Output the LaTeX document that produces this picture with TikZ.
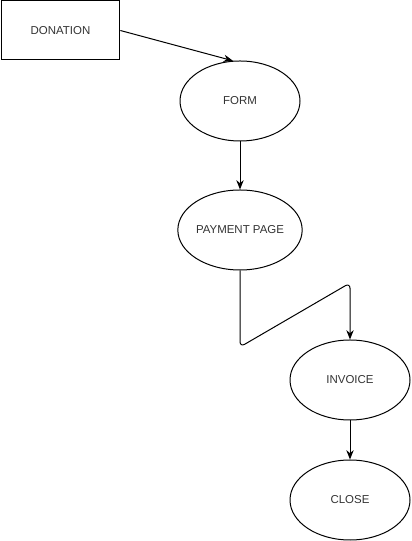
\documentclass[tikz,border=0pt]{standalone}
\usepackage{fontspec}
\setmainfont{Liberation Sans}
\usetikzlibrary{shapes.geometric,arrows.meta}
\definecolor{txtgray}{HTML}{333333}
\tikzset{
  box/.style={draw, rectangle, minimum width=89pt, minimum height=44.25pt, inner sep=0pt, font=\fontsize{8.6pt}{10pt}\selectfont, text=txtgray},
  oval/.style={draw, ellipse, minimum width=90pt, minimum height=60pt, inner sep=0pt, font=\fontsize{8.6pt}{10pt}\selectfont, text=txtgray},
  flow/.style={-{Stealth[length=7pt,width=5.5pt]}}
}
\begin{document}
\begin{tikzpicture}[x=0.75pt, y=0.75pt, line width=0.75pt]
\useasboundingbox (0,0) rectangle (411,541);

\node[box] (donation) at (60.5,510.5) {DONATION};
\node[oval] (form) at (240,440) {FORM};
\node[oval] (payment) at (240,311) {PAYMENT PAGE};
\node[oval] (invoice) at (350,161) {INVOICE};
\node[oval] (close) at (350,41) {CLOSE};

\coordinate (bendA) at (240,194);
\coordinate (bendB) at (350,258);

\draw[flow] (donation.east) -- (form.100);
\draw[flow] (form.south) -- (payment.north);
\draw[flow, rounded corners=4pt] (payment.south) -- (bendA) -- (bendB) -- (invoice.north);
\draw[flow] (invoice.south) -- (close.north);
\end{tikzpicture}
\end{document}
